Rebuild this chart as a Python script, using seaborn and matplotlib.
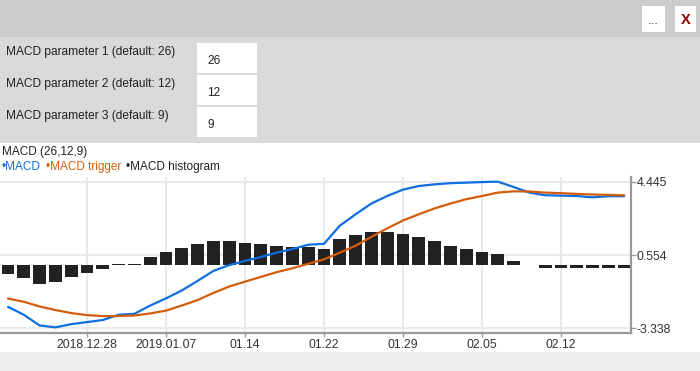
import numpy as np
import pandas as pd
import matplotlib
matplotlib.use("Agg")
import matplotlib.pyplot as plt
from matplotlib.patches import Rectangle
import seaborn as sns

# ---------------- data ----------------
dates = ["2018-12-20", "2018-12-21", "2018-12-24", "2018-12-26", "2018-12-27", "2018-12-28",
         "2018-12-31", "2019-01-02", "2019-01-03", "2019-01-04", "2019-01-07", "2019-01-08",
         "2019-01-09", "2019-01-10", "2019-01-11", "2019-01-14", "2019-01-15", "2019-01-16",
         "2019-01-17", "2019-01-18", "2019-01-22", "2019-01-23", "2019-01-24", "2019-01-25",
         "2019-01-28", "2019-01-29", "2019-01-30", "2019-01-31", "2019-02-01", "2019-02-04",
         "2019-02-05", "2019-02-06", "2019-02-07", "2019-02-08", "2019-02-11", "2019-02-12",
         "2019-02-13", "2019-02-14", "2019-02-15", "2019-02-19"]
macd = [-2.20, -2.62, -3.19, -3.29, -3.12, -3.01, -2.90, -2.62, -2.57, -2.13,
        -1.75, -1.33, -0.82, -0.29, 0.02, 0.24, 0.45, 0.68, 0.87, 1.10,
        1.15, 2.11, 2.72, 3.29, 3.69, 4.03, 4.22, 4.31, 4.37, 4.40,
        4.43, 4.45, 4.17, 3.87, 3.73, 3.71, 3.69, 3.62, 3.68, 3.68]
trigger = [-1.76, -1.93, -2.18, -2.37, -2.53, -2.64, -2.69, -2.69, -2.66, -2.55,
           -2.40, -2.13, -1.84, -1.46, -1.12, -0.86, -0.61, -0.36, -0.15, 0.09,
           0.32, 0.68, 1.05, 1.52, 1.97, 2.39, 2.72, 3.03, 3.29, 3.52,
           3.69, 3.87, 3.94, 3.93, 3.87, 3.84, 3.80, 3.77, 3.75, 3.73]
histogram = [-0.44, -0.65, -0.96, -0.88, -0.59, -0.38, -0.17, 0.06, 0.09, 0.45,
             0.71, 0.94, 1.14, 1.29, 1.29, 1.19, 1.14, 1.03, 0.98, 0.98,
             0.87, 1.42, 1.61, 1.77, 1.77, 1.66, 1.51, 1.29, 1.03, 0.87,
             0.71, 0.61, 0.24, np.nan, -0.11, -0.11, -0.11, -0.11, -0.11, -0.11]
xtick_dates = ["2018-12-28", "2019-01-07", "2019-01-14", "2019-01-22", "2019-01-29",
               "2019-02-05", "2019-02-12"]
xtick_labels = ["2018.12.28", "2019.01.07", "01.14", "01.22", "01.29", "02.05", "02.12"]
ytick_values = [-3.338, 0.554, 4.445]
ytick_labels = ["-3.338", "0.554", "4.445"]
params = [("MACD parameter 1 (default: 26)", "26"),
          ("MACD parameter 2 (default: 12)", "12"),
          ("MACD parameter 3 (default: 9)", "9")]

df = pd.DataFrame({"date": dates, "macd": macd, "trigger": trigger, "hist": histogram})
df["i"] = np.arange(len(df))

# ---------------- style ----------------
sns.set_style("white")
plt.rcParams["font.family"] = ["Liberation Sans", "DejaVu Sans"]

W, H = 700, 371
fig = plt.figure(figsize=(W / 100, H / 100), dpi=100)
fig.patch.set_facecolor("white")

def fx(x):
    return x / W

def fy(y):
    return 1 - y / H

def band(x0, y0, x1, y1, color, z=0):
    fig.patches.append(Rectangle((fx(x0), fy(y1)), (x1 - x0) / W, (y1 - y0) / H,
                                 transform=fig.transFigure, facecolor=color,
                                 edgecolor="none", zorder=z))

# UI panels
band(0, 0, 700, 37, "#cccccc")
band(0, 37, 700, 143, "#d9d9d9")
band(0, 352, 700, 371, "#eeeeee")
# buttons
band(642, 6, 665, 32, "white", 1)
band(675, 6, 696, 32, "white", 1)
fig.text(fx(653.5), fy(21), "...", ha="center", va="center", fontsize=9.5,
         color="#333333")
fig.text(fx(685.5), fy(19.5), "X", ha="center", va="center", fontsize=10.5,
         color="#8b0000", fontweight="bold")

# parameter rows
label_y = [52.5, 84.5, 116.5]
box_top = [43, 75, 107]
for (lab, val), ly, bt in zip(params, label_y, box_top):
    fig.text(fx(6), fy(ly), lab, ha="left", va="center", fontsize=8.6, color="#222222")
    band(197, bt, 257, bt + 30, "white", 1)
    fig.text(fx(207), fy(bt + 18), val, ha="left", va="center", fontsize=8.6,
             color="#222222")

# title + legend
fig.text(fx(2), fy(152), "MACD (26,12,9)", ha="left", va="center", fontsize=8.5,
         color="#222222")
blue = "#0e6fe0"
orange = "#d45d0c"
black = "#222222"
for xs, txt, col in [(1.5, "•MACD", blue), (45.5, "•MACD trigger", orange),
                     (126.5, "•MACD histogram", black)]:
    fig.text(fx(xs), fy(167), txt, ha="left", va="center", fontsize=8.5, color=col)

# ---------------- chart ----------------
ax = fig.add_axes([0, fy(333), 631 / W, (333 - 177) / H])
ax.set_facecolor("white")
ax.set_axisbelow(True)

sns.barplot(data=df, x="i", y="hist", native_scale=True, color=black,
            saturation=1, errorbar=None, width=0.8, linewidth=0, ax=ax, zorder=2)
sns.lineplot(data=df, x="i", y="macd", color=blue, linewidth=1.6, ax=ax, zorder=3)
sns.lineplot(data=df, x="i", y="trigger", color=orange, linewidth=1.6, ax=ax, zorder=4)

ax.set_xlim(-0.506, 39.43)
ax.set_ylim(-3.59, 4.70)

xt = [dates.index(d) for d in xtick_dates]
ax.set_xticks(xt)
ax.set_xticklabels(xtick_labels)
ax.yaxis.tick_right()
ax.set_yticks(ytick_values)
ax.set_yticklabels(ytick_labels)
ax.set_xlabel("")
ax.set_ylabel("")

ax.grid(True, color="#e9e9e9", linewidth=1.5)
for s in ["left", "top"]:
    ax.spines[s].set_visible(False)
for s in ["right", "bottom"]:
    ax.spines[s].set_visible(True)
    ax.spines[s].set_color("#999999")
    ax.spines[s].set_linewidth(1.6)
ax.tick_params(axis="x", direction="out", length=3, width=1, color="#999999",
               pad=1.5, labelsize=8.8, labelcolor="#333333", bottom=True)
ax.tick_params(axis="y", direction="out", length=3.5, width=1, color="#999999",
               pad=0.8, labelsize=8.8, labelcolor="#333333", right=True, left=False)

fig.savefig("out.png", dpi=100)
